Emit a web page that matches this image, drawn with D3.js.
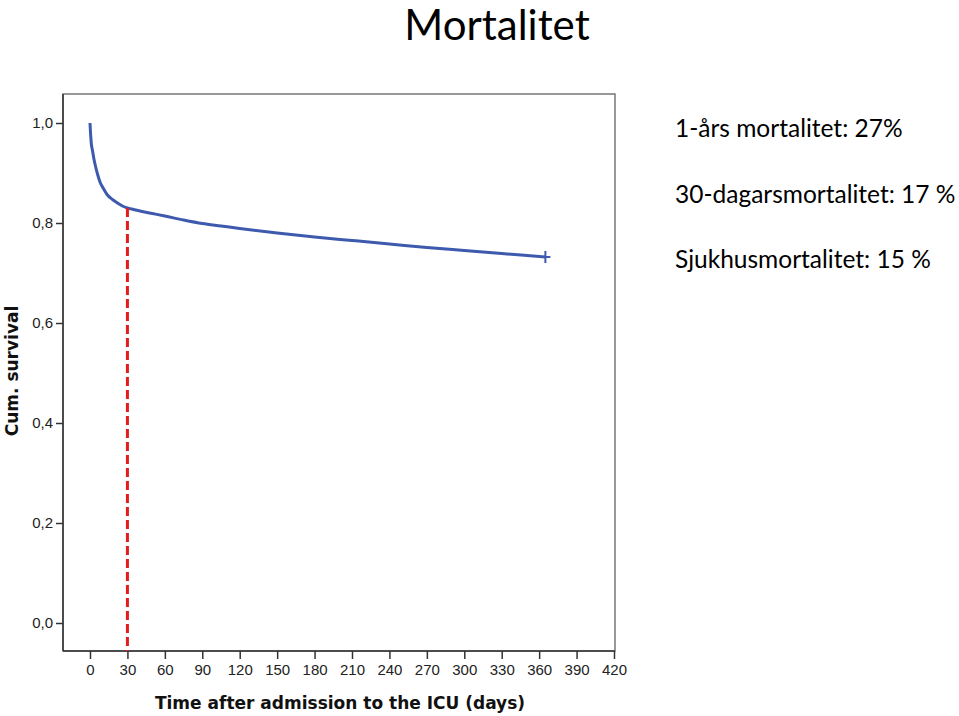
<!DOCTYPE html>
<html>
<head>
<meta charset="utf-8">
<script src="https://cdn.jsdelivr.net/npm/d3@7"></script>
<style>
  html, body { margin: 0; padding: 0; background: #fff; }
  svg { display: block; }
  .tick text { font-family: "Liberation Sans", Arial, sans-serif; font-size: 15px; fill: #222; }
</style>
</head>
<body>
<svg id="chart" width="959" height="716"></svg>
<script>
// ---- data ----
const days = [0, 0.3, 0.7, 1, 2, 3, 4, 6, 8, 11, 14, 18, 22, 26, 30, 35, 40, 50, 60, 75, 90, 105, 120, 150, 180, 210, 240, 270, 300, 330, 365];
const survival = [1.0, 0.985, 0.97, 0.96, 0.945, 0.93, 0.918, 0.898, 0.882, 0.868, 0.856, 0.847, 0.840, 0.834, 0.830, 0.827, 0.824, 0.819, 0.814, 0.806, 0.799, 0.794, 0.789, 0.780, 0.772, 0.765, 0.758, 0.751, 0.745, 0.739, 0.732];
const xTicks = [0, 30, 60, 90, 120, 150, 180, 210, 240, 270, 300, 330, 360, 390, 420];
const yTicks = [0, 0.2, 0.4, 0.6, 0.8, 1.0];
const markerDay = 30;
const censorDay = 365;
const titleText = "Mortalitet";
const notes = ["1-års mortalitet: 27%", "30-dagarsmortalitet: 17 %", "Sjukhusmortalitet: 15 %"];
const xTitle = "Time after admission to the ICU (days)";
const yTitle = "Cum. survival";

const svg = d3.select("#chart");
const L = 63, R = 615, T = 94, B = 651;

const x = d3.scaleLinear().domain([0, 420]).range([90, 614]);
const y = d3.scaleLinear().domain([0, 1]).range([623, 123]);

// frame
svg.append("rect").attr("x", L).attr("y", T).attr("width", R - L).attr("height", B - T)
  .attr("fill", "#fff").attr("stroke", "#777").attr("stroke-width", 1.5);

// axes
const xAxis = d3.axisBottom(x).tickValues(xTicks).tickSize(8).tickPadding(5).tickFormat(d3.format("d"));
const gx = svg.append("g").attr("transform", `translate(0,${B})`).call(xAxis)
  .attr("font-size", 15).attr("font-family", "Liberation Sans, Arial, sans-serif");
gx.select(".domain").attr("d", `M${L},0H${R}`).attr("stroke", "#333").attr("stroke-width", 1.5);
gx.selectAll(".tick line").attr("stroke", "#333").attr("stroke-width", 1.5);
gx.selectAll(".tick text").attr("font-size", 15);

const yAxis = d3.axisLeft(y).tickValues(yTicks).tickSize(7).tickPadding(3)
  .tickFormat(d => d3.format(".1f")(d).replace(".", ","));
const gy = svg.append("g").attr("transform", `translate(${L},0)`).call(yAxis)
  .attr("font-size", 15).attr("font-family", "Liberation Sans, Arial, sans-serif");
gy.select(".domain").attr("d", `M0,${T}V${B}`).attr("stroke", "#333").attr("stroke-width", 1.5);
gy.selectAll(".tick line").attr("stroke", "#333").attr("stroke-width", 1.5);
gy.selectAll(".tick text").attr("font-size", 15);

// survival curve
const data = days.map((d, i) => ({ d, s: survival[i] }));
const line = d3.line().x(p => x(p.d)).y(p => y(p.s)).curve(d3.curveMonotoneX);
svg.append("path").datum(data).attr("d", line)
  .attr("fill", "none").attr("stroke", "#3d5aae").attr("stroke-width", 3);
// short tail after censoring
const last = data[data.length - 1];
svg.append("line").attr("x1", x(last.d)).attr("x2", x(last.d) + 5)
  .attr("y1", y(last.s)).attr("y2", y(last.s)).attr("stroke", "#3d5aae").attr("stroke-width", 2);
svg.append("line").attr("x1", x(censorDay)).attr("x2", x(censorDay))
  .attr("y1", y(last.s) - 6).attr("y2", y(last.s) + 6).attr("stroke", "#3d5aae").attr("stroke-width", 2);

// 30-day marker
const sAt30 = survival[days.indexOf(markerDay)];
svg.append("line").attr("x1", x(markerDay)).attr("x2", x(markerDay))
  .attr("y1", y(sAt30)).attr("y2", B)
  .attr("stroke", "#e51c1c").attr("stroke-width", 3).attr("stroke-dasharray", "9,4");

// axis titles
svg.append("text").attr("x", 340).attr("y", 709).attr("text-anchor", "middle")
  .attr("font-family", "DejaVu Sans, sans-serif").attr("font-weight", "bold").attr("font-size", 17)
  .attr("fill", "#111").text(xTitle);
svg.append("text").attr("transform", "translate(18,371) rotate(-90)").attr("text-anchor", "middle")
  .attr("font-family", "DejaVu Sans, sans-serif").attr("font-weight", "bold").attr("font-size", 17)
  .attr("fill", "#111").text(yTitle);

// title
svg.append("text").attr("x", 497).attr("y", 40).attr("text-anchor", "middle")
  .attr("font-family", "Lato, Open Sans, sans-serif").attr("font-size", 42).attr("fill", "#000").text(titleText);

// notes
notes.forEach((t, i) => {
  svg.append("text").attr("x", 675).attr("y", 137 + i * 65.5)
    .attr("font-family", "Lato, Open Sans, sans-serif").attr("font-size", 24.5).attr("fill", "#000").text(t);
});
</script>
</body>
</html>
